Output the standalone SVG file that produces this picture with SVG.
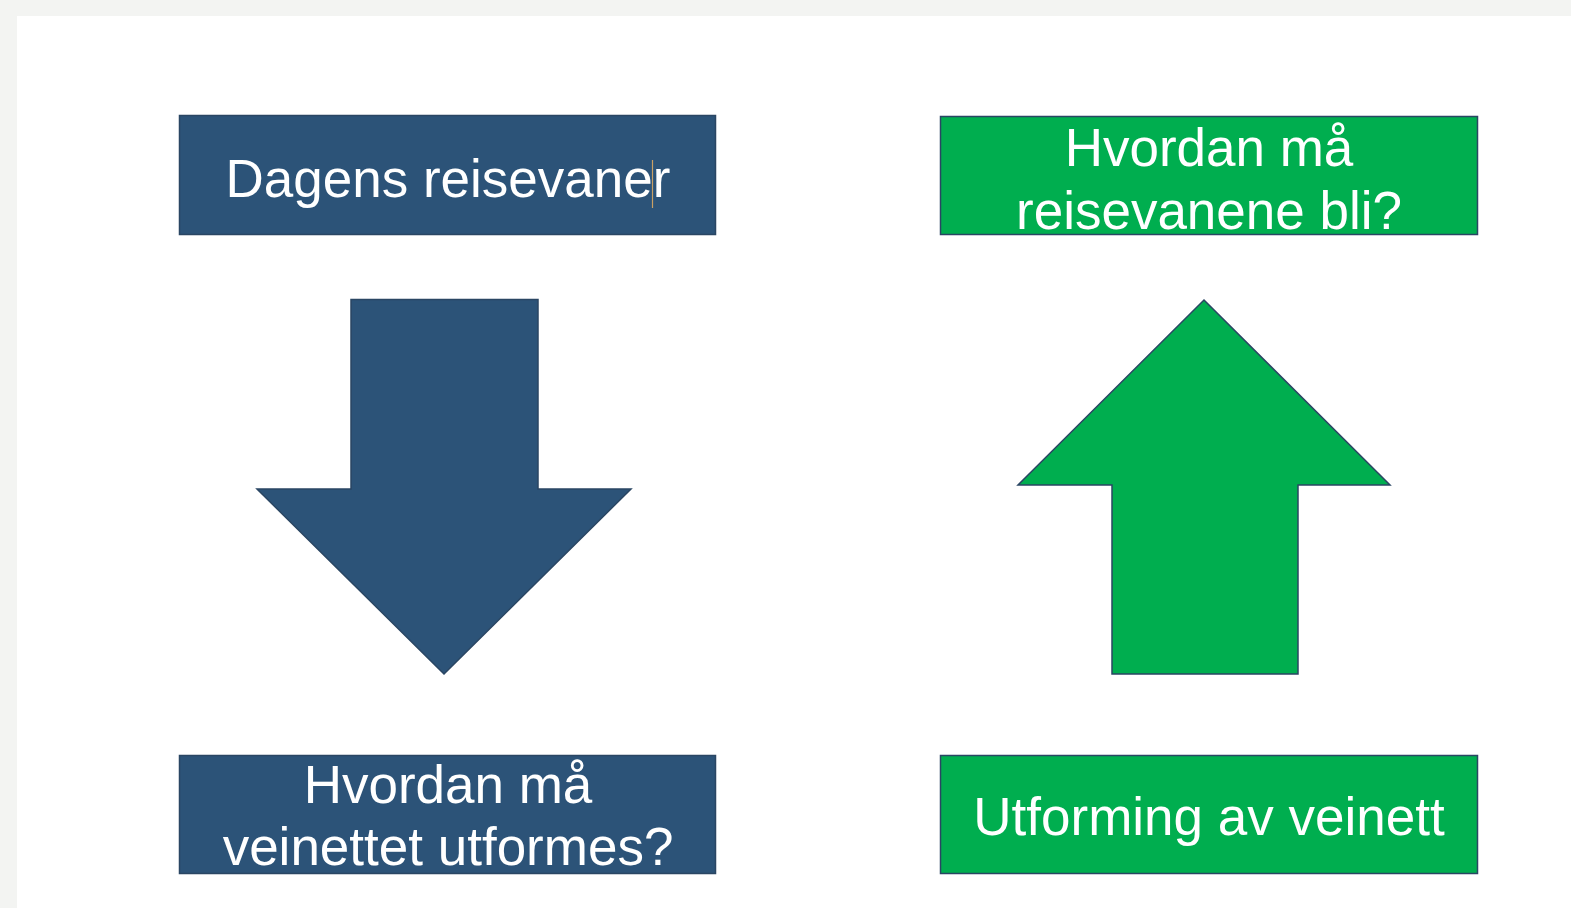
<svg xmlns="http://www.w3.org/2000/svg" width="1571" height="908" viewBox="0 0 1571 908">
<style>
.blue{fill:#2c5378;stroke:#2a4663;stroke-width:1.5}
.green{fill:#00ae4f;stroke:#2a4663;stroke-width:1.5}
.t{font-family:"Liberation Sans",Arial,sans-serif;font-size:53px;fill:#ffffff;text-anchor:middle}
</style>
<rect x="0" y="0" width="1571" height="908" fill="#f3f4f2"/>
<rect x="17" y="16" width="1554" height="892" fill="#ffffff"/>
<g id="box-dagens">
<rect class="blue" x="179.5" y="115.5" width="536" height="119"/>
<text class="t" x="448" y="197">Dagens reisevaner</text>
<line x1="652.5" y1="160" x2="652.5" y2="208" stroke="#c9a064" stroke-width="1.2"/>
</g>
<g id="box-hvordan-reisevanene">
<rect class="green" x="940.5" y="116.5" width="537" height="118"/>
<text class="t" x="1209" y="166">Hvordan må</text>
<text class="t" x="1209" y="229">reisevanene bli?</text>
</g>
<g id="box-hvordan-veinettet">
<rect class="blue" x="179.5" y="755.5" width="536" height="118"/>
<text class="t" x="448" y="803">Hvordan må</text>
<text class="t" x="448" y="865">veinettet utformes?</text>
</g>
<g id="box-utforming">
<rect class="green" x="940.5" y="755.5" width="537" height="118"/>
<text class="t" x="1209" y="835">Utforming av veinett</text>
</g>
<g id="connectors">
<polygon id="arrow-down" class="blue" points="351,299.5 538,299.5 538,489 631,489 444,674 257,489 351,489"/>
<polygon id="arrow-up" class="green" points="1204,300 1390,485 1298,485 1298,674 1112,674 1112,485 1018,485"/>
</g>
</svg>
